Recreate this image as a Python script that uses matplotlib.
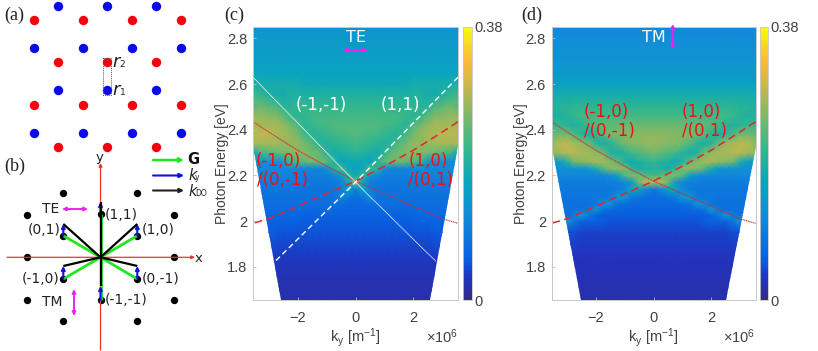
import numpy as np
import matplotlib
matplotlib.use("Agg")
import matplotlib.pyplot as plt
from matplotlib.colors import LinearSegmentedColormap
from matplotlib.patches import Polygon, Rectangle

plt.rcParams['font.family'] = ['Liberation Sans', 'DejaVu Sans']
plt.rcParams['mathtext.fontset'] = 'custom'
plt.rcParams['mathtext.rm'] = 'Liberation Sans'
plt.rcParams['mathtext.default'] = 'regular'

W, H = 818, 351

# parula like colours, position on the bar and colour
cmap_stops = [(0, (0.208, 0.166, 0.529)), (0.08, (0.13, 0.2, 0.75)), (0.15, (0.03, 0.38, 0.88)),
              (0.31, (0.07, 0.55, 0.85)), (0.43, (0.03, 0.65, 0.74)), (0.555, (0.2, 0.72, 0.55)),
              (0.7, (0.55, 0.72, 0.38)), (0.81, (0.85, 0.72, 0.28)), (0.88, (0.99, 0.73, 0.22)),
              (0.95, (0.96, 0.88, 0.13)), (1, (0.98, 0.98, 0.05))]

# energy rows and half of the ky columns, [x100] intensity
energy = [1.65, 1.75, 1.85, 1.95, 2.0, 2.025, 2.05, 2.075, 2.1, 2.14, 2.17, 2.2, 2.23, 2.26, 2.3, 2.34, 2.38,
          2.42, 2.46, 2.5, 2.55, 2.6, 2.65, 2.7, 2.8, 2.85]
ky_half = [0, .25, .5, .75, 1, 1.25, 1.5, 1.75, 2, 2.25, 2.5, 2.75, 3, 3.25, 3.54]

te_map = [
    [2, 2, 2, 2, 2, 2, 2, 2, 2, 2, 2, 2, 2, 2, 2],
    [2.5, 2.5, 2.5, 2.5, 2.5, 2.5, 2.5, 2.5, 2.5, 2.5, 2.5, 2.5, 2.5, 2.5, 2.5],
    [3.5, 3.5, 3.5, 3.5, 3.5, 3.5, 3.5, 3.5, 3.5, 3.5, 3.5, 3.5, 4, 4, 4],
    [5, 5, 5, 5, 5, 5, 5, 5, 5, 5, 5, 5.5, 5.5, 5.5, 5.5],
    [5.5, 5.5, 5.5, 5.5, 5.5, 5.5, 5.5, 5.5, 6, 6, 6, 6, 6, 6, 6],
    [6, 6, 6, 6, 6, 6, 6, 6, 6.5, 6.5, 6.5, 6.5, 6.5, 6.5, 6.5],
    [6.5, 6.5, 6.5, 7, 7, 7, 7, 7, 7, 7, 7, 7, 7, 7, 7],
    [7, 7, 7.5, 7.5, 7.5, 7.5, 7.5, 7.5, 7.5, 7.5, 7.5, 7.5, 7.5, 7.5, 7.5],
    [7.5, 8.5, 11, 8, 8, 8, 8, 8, 8, 8, 8, 8, 8, 8, 8],
    [10, 16, 10, 8.5, 8.5, 8.5, 8.5, 8.5, 8.5, 8.5, 8.5, 8.5, 8.5, 8.5, 8.5],
    [27, 16, 10, 9, 9, 9, 9, 9, 9.5, 9.5, 9.5, 9.5, 9.5, 9.5, 9.5],
    [17, 21, 15, 11, 10, 10, 10, 10, 10.5, 10.5, 10.5, 10.5, 10.5, 10.5, 10.5],
    [15, 17, 23, 20, 12, 10.5, 10.5, 10.5, 11, 11, 11, 11, 11, 11.5, 11.5],
    [17, 17, 16, 20, 24, 25, 25, 24, 23, 21, 14, 12, 12, 12, 12],
    [20, 19.5, 18.5, 18, 20, 24, 25, 26, 26, 26, 25, 24, 23, 22, 17],
    [22, 21, 21, 20, 19, 20, 23, 25, 27, 27, 27, 28, 28, 28, 28],
    [23, 23, 22, 22, 21, 20, 20, 22, 25, 27, 28, 28, 29, 29, 29],
    [23, 23, 23, 23, 22, 22, 21, 20, 23, 25, 27, 28, 28, 28, 28],
    [22, 22, 22, 22, 22, 22, 22, 21, 20, 21, 24, 26, 26, 27, 27],
    [21, 21, 21, 21, 21, 21, 21, 21, 21, 20, 20, 23, 24, 25, 24],
    [19, 19, 19, 19, 19, 19, 19, 19, 19, 19, 18, 18, 19, 21, 22],
    [17, 17, 17, 17, 17, 17, 17, 17, 18, 18, 18, 18, 18, 18, 19],
    [16, 16, 16, 16, 16, 16, 16, 16, 16, 16, 16, 16, 16, 16, 16],
    [15, 15, 15, 15, 15, 15, 15, 15, 15, 15, 15, 15, 15, 15, 15],
    [14, 14, 14, 14, 14, 14, 14, 14, 14, 14, 14, 14, 14, 14, 14],
    [13, 13, 13, 13, 13, 13, 13, 13, 13, 13, 13, 13, 13, 13, 13],
]

tm_map = [
    [2, 2, 2, 2, 2, 2, 2, 2, 2, 2, 2, 2, 2, 2, 2],
    [2.5, 2.5, 2.5, 2.5, 2.5, 2.5, 2.5, 2.5, 2.5, 2.5, 2.5, 2.5, 2.5, 2.5, 2.5],
    [3, 3, 3, 3, 3, 3, 3, 3, 3, 3, 3, 3, 3, 3, 3],
    [4, 4, 4, 4, 4, 4, 4, 4, 4, 4, 4, 4.5, 4.5, 5, 5],
    [5, 5, 5, 5, 5, 5, 5, 5.5, 6, 6, 6.5, 9, 14, 7.5, 7.5],
    [5.5, 5.5, 5.5, 5.5, 5.5, 5.5, 5.5, 5.5, 6.5, 9, 14, 10, 8, 8, 8],
    [6, 6, 6, 6, 6.5, 6.5, 7, 8.5, 14, 9, 8, 8, 8, 8, 8],
    [7, 7, 7, 7, 7.5, 8, 13, 12, 8.5, 8, 8, 8, 8, 8, 8],
    [7, 7.5, 8, 9, 13, 14, 9.5, 9, 9, 8.5, 8.5, 8.5, 8.5, 8.5, 8.5],
    [9, 11, 16, 17, 11, 9.5, 9, 9, 9, 9, 9, 9, 9, 9, 9],
    [29, 29, 25, 14, 11, 10, 10, 9.5, 9.5, 9.5, 9.5, 9.5, 9.5, 9.5, 9.5],
    [22, 23, 25, 26, 23, 16, 12, 11, 11, 11, 11, 11, 11, 11, 11],
    [19, 19, 18, 21, 26, 27, 26, 23, 18, 14, 13, 13, 12.5, 12.5, 12.5],
    [21, 20, 19, 17, 19, 24, 26, 28, 28, 27, 26, 25, 19, 15, 14],
    [25, 24, 23, 22, 20, 18, 19, 25, 27, 28, 28, 29, 29, 28, 27],
    [27, 27, 26, 26, 25, 23, 20, 18, 20, 25, 27, 28, 29, 29, 27],
    [26.5, 26.5, 26.5, 26, 26, 25.5, 25, 23, 20, 18, 20, 23, 25, 25, 24],
    [24.5, 24.5, 24.5, 24.5, 24.5, 24, 24, 24, 23, 22, 20, 19, 20, 21, 21],
    [22, 22, 22, 22, 22, 22, 22, 22, 22, 22, 22, 21, 20, 19, 19],
    [20.5, 20.5, 20.5, 20.5, 20.5, 20.5, 20.5, 20.5, 20.5, 20.5, 20.5, 20.5, 20, 20, 19],
    [18, 18, 18, 18, 18, 18, 18, 18, 18, 18, 18, 18, 18, 18, 18],
    [15.5, 15.5, 15.5, 15.5, 15.5, 15.5, 15.5, 15.5, 15.5, 15.5, 15.5, 15.5, 15.5, 15.5, 15.5],
    [14, 14, 14, 14, 14, 14, 14, 14, 14, 14, 14, 14, 14, 14, 14],
    [13, 13, 13, 13, 13, 13, 13, 13, 13, 13, 13, 13, 13, 13, 13],
    [12, 12, 12, 12, 12, 12, 12, 12, 12, 12, 12, 12, 12, 12, 12],
    [11.5, 11.5, 11.5, 11.5, 11.5, 11.5, 11.5, 11.5, 11.5, 11.5, 11.5, 11.5, 11.5, 11.5, 11.5],
]

# edge of the measured area (right side, mirrored for the left one)
te_edge_k = [2.56, 3.54, 3.54]
te_edge_e = [1.654, 2.33, 2.85]
tm_edge_k = [2.52, 3.54, 3.54]
tm_edge_e = [1.654, 2.325, 2.85]

# dispersion lines
red_k = [-3.54, -3, -2, -1, 0, 1, 2, 3, 3.54]
red_e = [2.435, 2.39, 2.31, 2.24, 2.175, 2.12, 2.065, 2.01, 1.99]
white_k = [-3.54, -2, 0, 2, 2.77]
white_e = [2.63, 2.43, 2.17, 1.92, 1.824]

# panel a dots, pixel positions
row_a = [33.5, 82.5, 131.5, 180.5]
row_b = [58, 107, 156]
red_rows = [(20, row_a), (62, row_b), (104.5, row_a), (146.5, row_b)]
blue_rows = [(5.5, row_b), (48, row_a), (90, row_b), (132.5, row_a)]

# panel b
dots_x = [63.3, 137.3, 26.7, 174, 63.3, 137.3, 26.7, 174, 63.3, 137.3, 26.7, 174, 63.3, 137.3, 100.5, 100.5]
dots_y = [193.3, 193.3, 214.7, 214.7, 235.7, 235.7, 257.3, 257.3, 279, 279, 300, 300, 321, 321, 214.3, 300]
g_tips = [(137.3, 235.7), (63.3, 235.7), (137.3, 279), (63.3, 279), (100.5, 214.3), (100.5, 300)]
k_tips = [(137.3, 224), (63.3, 224), (137.3, 266), (63.3, 266), (100.5, 202), (100.5, 286)]

fig = plt.figure(figsize=(W / 100, H / 100), dpi=100)


def add_ax(x0, y0, x1, y1):
    return fig.add_axes([x0 / W, 1 - y1 / H, (x1 - x0) / W, (y1 - y0) / H])


cm_par = LinearSegmentedColormap.from_list('par', cmap_stops, N=256)
grey = '#404040'


def spectrum(x0, x1, cx0, cx1, data, edge_k, edge_e):
    ax = add_ax(x0, 27, x1, 300)
    half = np.array(data, dtype=float) / 100
    full = np.hstack([half[:, :0:-1], half])
    kk = np.array([-k for k in ky_half[:0:-1]] + ky_half)
    m = ax.pcolormesh(kk, energy, full, cmap=cm_par, vmin=0, vmax=0.38, shading='gouraud', rasterized=True)
    poly_k = [-k for k in edge_k[::-1]] + list(edge_k)
    poly_e = list(edge_e[::-1]) + list(edge_e)
    clip = Polygon(np.column_stack([poly_k, poly_e]), closed=True, transform=ax.transData, fc='none', ec='none')
    ax.add_patch(clip)
    m.set_clip_path(clip)
    ax.set_xlim(-3.54, 3.54)
    ax.set_ylim(1.654, 2.85)
    ax.set_xticks([-2, 0, 2])
    ax.set_yticks([1.8, 2, 2.2, 2.4, 2.6, 2.8])
    ax.set_yticklabels(['1.8', '2', '2.2', '2.4', '2.6', '2.8'])
    ax.tick_params(direction='in', length=2.5, width=0.6, color='#bbbbbb', labelcolor=grey, labelsize=10.5, pad=4)
    ax.tick_params(axis='x', pad=8)
    for s in ax.spines.values():
        s.set_color('#c8c8c8')
        s.set_linewidth(0.7)
    ax.set_axisbelow(False)
    ax.set_ylabel('Photon Energy [eV]', fontsize=10, color=grey)
    ax.yaxis.set_label_coords(-0.117, 0.50)
    ax.set_xlabel('$k_y$ [m$^{-1}$]', fontsize=10.5, color=grey)
    ax.xaxis.set_label_coords(0.5, -0.095)
    ax.text(1.0, -0.135, r'$\times$10$^6$', transform=ax.transAxes, ha='right', va='center', fontsize=10.5, color=grey)
    ax.plot(red_k, red_e, color='#d8262c', lw=0.8, ls=(0, (1, 0.6)))
    ax.plot([-k for k in red_k], red_e, color='#e0262c', lw=1.1, ls=(0, (5, 3)))
    cax = add_ax(cx0, 27, cx1, 300)
    cb = fig.colorbar(m, cax=cax)
    cb.set_ticks([0, 0.38])
    cb.set_ticklabels(['0', '0.38'])
    cb.ax.tick_params(length=0, labelcolor=grey, labelsize=10.5, pad=2)
    cb.outline.set_edgecolor('#c8c8c8')
    cb.outline.set_linewidth(0.6)
    return ax


ax_c = spectrum(253, 458, 463, 472, te_map, te_edge_k, te_edge_e)
ax_c.plot(white_k, white_e, color='white', lw=0.7, ls=(0, (1, 0.5)))
ax_c.plot([-k for k in white_k[:-1]] + [-2.77], white_e, color='white', lw=1, ls=(0, (4, 2.5)))
ax_d = spectrum(551.5, 755.5, 760, 768, tm_map, tm_edge_k, tm_edge_e)

# overlay in pixel coordinates for the schematics and the labels
ov = fig.add_axes([0, 0, 1, 1], facecolor='none')
ov.set_xlim(0, W)
ov.set_ylim(H, 0)
ov.axis('off')

serif = 'Liberation Serif'
for s, x, y in [('(a)', 4, 15), ('(b)', 4, 166), ('(c)', 224, 15), ('(d)', 521, 15)]:
    ov.text(x, y, s, family=serif, fontsize=13, va='center', color='#222222')

for y, xs in red_rows:
    ov.scatter(xs, [y] * len(xs), s=46, color='#f5000c', lw=0)
for y, xs in blue_rows:
    ov.scatter(xs, [y] * len(xs), s=46, color='#0a0ae6', lw=0)
ov.add_patch(Rectangle((102.5, 57.5), 8.5, 37, fc='none', ec='#555555', lw=0.7, ls=(0, (1, 1))))
dj = 'DejaVu Sans'
for t, yr in [('2', 62), ('1', 90)]:
    ov.text(112.5, yr, 'r', family=dj, style='italic', fontsize=13, va='center', color='#222222')
    ov.text(119.5, yr + 2.5, t, family=dj, fontsize=6.5, va='center', color='#222222')


def arrow(x0, y0, x1, y1, color, lw, style='-|>', ms=5):
    ov.annotate('', xy=(x1, y1), xytext=(x0, y0),
                arrowprops=dict(arrowstyle=style, color=color, lw=lw, mutation_scale=ms, shrinkA=0, shrinkB=0))


# axes of b
arrow(7, 257.3, 195, 257.3, '#f03030', 0.9, ms=5)
arrow(100.5, 350, 100.5, 163, '#f03030', 0.9, ms=5)
ov.text(195, 258, 'x', family=dj, fontsize=9.5, va='center', color='#222222')
ov.text(100, 157, 'y', family=dj, fontsize=9.5, ha='center', va='center', color='#222222')
ov.scatter(dots_x, dots_y, s=28, color='black', lw=0, zorder=2)
ox, oy = 100.5, 257.3
for (gx, gy), (kx, ky) in zip(g_tips, k_tips):
    ov.plot([ox, gx], [oy, gy], color='#22e622', lw=2, zorder=3, solid_capstyle='butt')
    arrow(gx, gy, kx, ky, '#1010e0', 1.5, ms=5)
for (kx, ky) in k_tips:
    ov.plot([ox, kx], [oy, ky], color='black', lw=1.6, zorder=4, solid_capstyle='butt')

for s, x, y in [('(1,1)', 105, 215), ('(1,0)', 141.5, 230), ('(0,1)', 27.5, 230), ('(-1,0)', 22, 279),
                ('(0,-1)', 141.5, 279), ('(-1,-1)', 105, 300)]:
    ov.text(x, y, s, family=dj, fontsize=10, va='center', color='#222222')
ov.text(42, 209, 'TE', family=dj, fontsize=10, va='center', color='#222222')
ov.text(42, 302, 'TM', family=dj, fontsize=10, va='center', color='#222222')
arrow(62, 209, 88, 209, '#ee22ee', 1.4, style='<|-|>', ms=5)
arrow(74, 289, 74, 316, '#ee22ee', 1.4, style='<|-|>', ms=5)

# legend of b
arrow(153, 160, 184, 160, '#22e622', 1.8, ms=6)
arrow(153, 175.5, 184, 175.5, '#1010e0', 1.5, ms=6)
arrow(153, 190.5, 184, 190.5, '#222222', 1.5, ms=6)
ov.text(187, 160, 'G', family=dj, weight='bold', fontsize=10.5, va='center', color='#111111')
ov.text(188, 175, 'k', family=dj, style='italic', fontsize=10.5, va='center', color='#222222')
ov.text(195, 178, 'y', family=dj, fontsize=5.5, va='center', color='#222222')
ov.text(188, 191, 'k', family=dj, style='italic', fontsize=10.5, va='center', color='#222222')
ov.text(195, 194, 'DO', family=dj, fontsize=5.5, va='center', color='#222222')

# labels on c and d
for s, x, y, c in [('(-1,-1)', 321, 105, 'white'), ('(1,1)', 400, 105, 'white'),
                   ('(-1,0)', 278, 161, '#f01010'), ('/(0,-1)', 282, 180, '#f01010'),
                   ('(1,0)', 428, 161, '#f01010'), ('/(0,1)', 431, 180, '#f01010'),
                   ('(-1,0)', 606, 112, '#f01010'), ('/(0,-1)', 609, 131, '#f01010'),
                   ('(1,0)', 701, 112, '#f01010'), ('/(0,1)', 704, 131, '#f01010')]:
    ov.text(x, y, s, family=dj, fontsize=12, ha='center', va='center', color=c)
ov.text(355.7, 37, 'TE', family=dj, fontsize=11.5, ha='center', va='center', color='white')
ov.text(654, 37.5, 'TM', family=dj, fontsize=11.5, ha='center', va='center', color='white')
arrow(343, 50, 368, 50, '#ee22ee', 1.4, style='<|-|>', ms=5)
arrow(672.7, 24, 672.7, 49, '#ee22ee', 1.4, style='<|-|>', ms=5)

fig.savefig('out.png', dpi=100)
